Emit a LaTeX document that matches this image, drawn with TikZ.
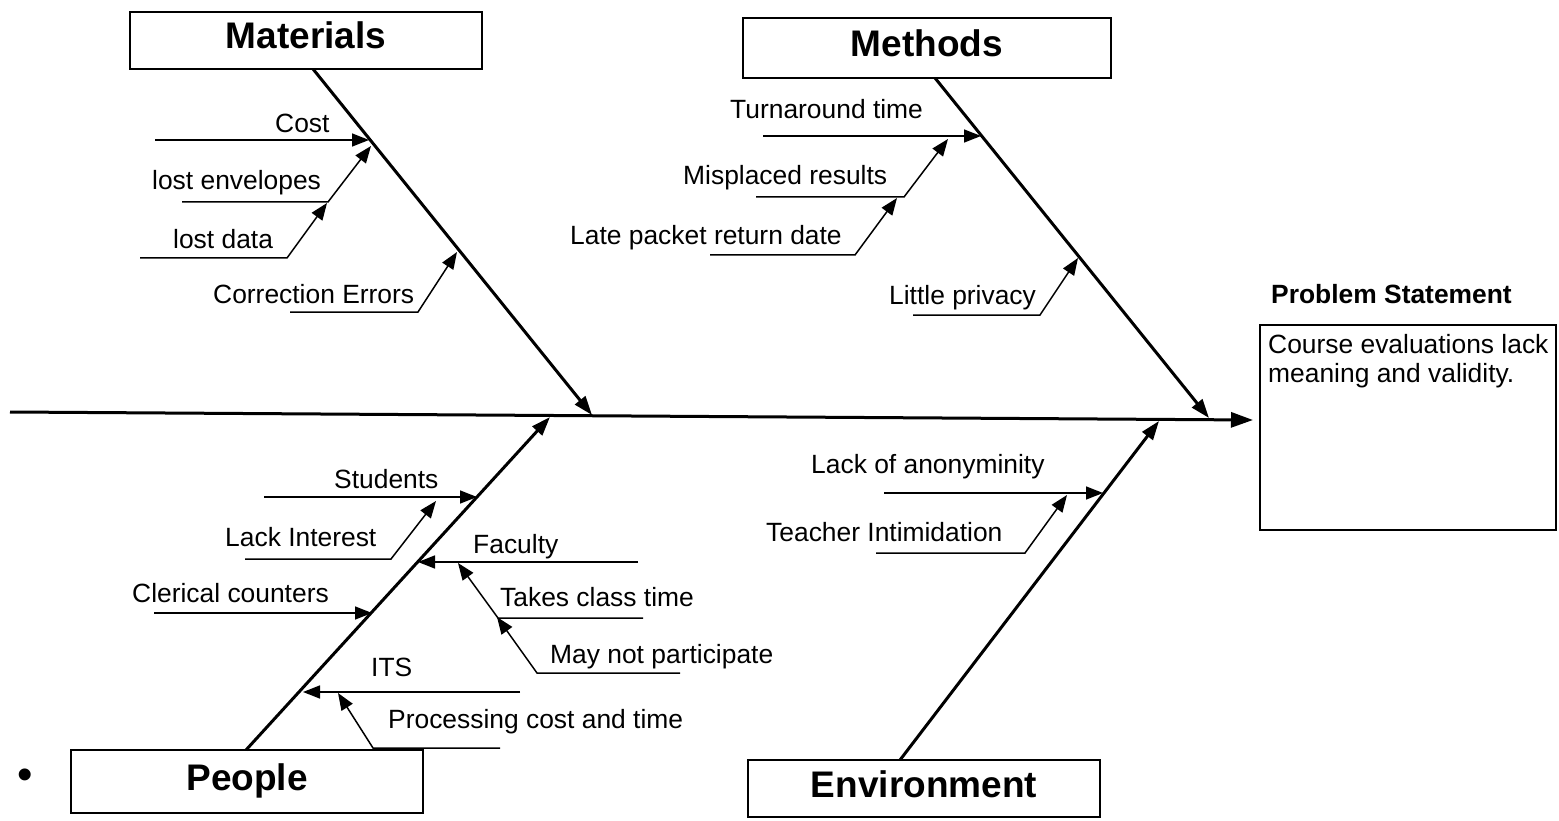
\documentclass[tikz,border=0pt]{standalone}
\usepackage{fontspec}
\setmainfont{Liberation Sans}
\usetikzlibrary{arrows.meta}
\begin{document}
\begin{tikzpicture}[x=1pt,y=-1pt,
  catbox/.style={draw, line width=1.5pt, inner sep=0pt, text height=27pt, text depth=10pt, font=\fontsize{37}{40}\selectfont\bfseries},
  lbl/.style={anchor=base west, inner sep=0pt, font=\fontsize{26.4}{30}\selectfont},
  spine/.style={line width=3pt, -{Triangle[length=22pt,width=15pt]}},
  bone/.style={line width=3pt, -{Triangle[length=19pt,width=13pt]}},
  rib/.style={line width=1.5pt, -{Triangle[length=17pt,width=13pt]}}]
\useasboundingbox (0,0) rectangle (1559,821);

% category boxes
\node[catbox, minimum width=352pt, minimum height=57pt] (mat) at (306,40.5) {Materials};
\node[catbox, minimum width=368pt, minimum height=60pt] (met) at (927,48) {Methods};
\node[catbox, minimum width=352pt, minimum height=63pt] (peo) at (247,781.5) {People};
\node[catbox, minimum width=352pt, minimum height=57pt] (env) at (924,788.5) {Environment};

% problem statement
\node[anchor=base west, inner sep=0pt, font=\fontsize{26.4}{30}\selectfont\bfseries] (ptitle) at (1271,303) {Problem Statement};
\node[draw, line width=1.5pt, minimum width=296pt, minimum height=205pt, inner sep=0pt] (prob) at (1408,427.5) {};
\node[anchor=north west, inner sep=0pt, align=left, font=\fontsize{26.4}{29}\selectfont] (ptext) at (1268,334) {Course evaluations lack\\meaning and validity.};

% bullet
\node[inner sep=0pt, font=\fontsize{44}{48}\selectfont] (bul) at (25,779) {•};

% spine
\coordinate (tail) at (10,412);
\coordinate (head) at (1253,420);
\draw[spine] (tail) -- (head);

% bone endpoints
\coordinate (matS) at (313,69);
\coordinate (matT) at (592,415);
\coordinate (metS) at (935,78);
\coordinate (metT) at (1209,418);
\coordinate (peoS) at (246,750);
\coordinate (peoT) at (550,417);
\coordinate (envS) at (900,760);
\coordinate (envT) at (1159,421);
\draw[bone] (matS) -- (matT);
\draw[bone] (metS) -- (metT);
\draw[bone] (peoS) -- (peoT);
\draw[bone] (envS) -- (envT);

% ---------- Materials ribs
\node[lbl] (cost) at (275,133) {Cost};
\node[lbl] (lenv) at (152,190) {lost envelopes};
\node[lbl] (ldata) at (173,249) {lost data};
\node[lbl] (corr) at (213,303) {Correction Errors};
\coordinate (c1) at (155,140); \coordinate (c1t) at (369,140);
\coordinate (c2) at (182,202); \coordinate (c2b) at (328,202); \coordinate (c2t) at (371,146);
\coordinate (c3) at (140,258); \coordinate (c3b) at (287,258); \coordinate (c3t) at (327,203);
\coordinate (c4) at (290,312); \coordinate (c4b) at (418,312); \coordinate (c4t) at (457,252);
\draw[rib] (c1) -- (c1t);
\draw[rib] (c2) -- (c2b) -- (c2t);
\draw[rib] (c3) -- (c3b) -- (c3t);
\draw[rib] (c4) -- (c4b) -- (c4t);

% ---------- Methods ribs
\node[lbl] (turn) at (730,119) {Turnaround time};
\node[lbl] (misp) at (683,185) {Misplaced results};
\node[lbl] (late) at (570,245) {Late packet return date};
\node[lbl] (priv) at (889,305) {Little privacy};
\coordinate (m1) at (763,136); \coordinate (m1t) at (981,136);
\coordinate (m2) at (756,197); \coordinate (m2b) at (904,197); \coordinate (m2t) at (948,139);
\coordinate (m3) at (710,255); \coordinate (m3b) at (855,255); \coordinate (m3t) at (897,198);
\coordinate (m4) at (913,315); \coordinate (m4b) at (1040,315); \coordinate (m4t) at (1078,258);
\draw[rib] (m1) -- (m1t);
\draw[rib] (m2) -- (m2b) -- (m2t);
\draw[rib] (m3) -- (m3b) -- (m3t);
\draw[rib] (m4) -- (m4b) -- (m4t);

% ---------- People ribs
\node[lbl] (stud) at (334,488) {Students};
\node[lbl] (lint) at (225,546) {Lack Interest};
\node[lbl] (cler) at (132,602) {Clerical counters};
\node[lbl] (fac) at (473,553) {Faculty};
\node[lbl] (takes) at (500,606) {Takes class time};
\node[lbl] (maynot) at (550,663) {May not participate};
\node[lbl] (its) at (371,676) {ITS};
\node[lbl] (proc) at (388,728) {Processing cost and time};
\coordinate (p1) at (264,497); \coordinate (p1t) at (477,497);
\coordinate (p2) at (245,559); \coordinate (p2b) at (391,559); \coordinate (p2t) at (436,501);
\coordinate (p3) at (154,613); \coordinate (p3t) at (372,613);
\coordinate (p4) at (638,562); \coordinate (p4t) at (418,562);
\coordinate (p5) at (643,618); \coordinate (p5b) at (498,618); \coordinate (p5t) at (458,563);
\coordinate (p6) at (680,673); \coordinate (p6b) at (537,673); \coordinate (p6t) at (497,617);
\coordinate (p7) at (520,692); \coordinate (p7t) at (303,692);
\coordinate (p8) at (500,748); \coordinate (p8b) at (373,748); \coordinate (p8t) at (338,693);
\draw[rib] (p1) -- (p1t);
\draw[rib] (p2) -- (p2b) -- (p2t);
\draw[rib] (p3) -- (p3t);
\draw[rib] (p4) -- (p4t);
\draw[rib] (p5) -- (p5b) -- (p5t);
\draw[rib] (p6) -- (p6b) -- (p6t);
\draw[rib] (p7) -- (p7t);
\draw[rib] (p8) -- (p8b) -- (p8t);

% ---------- Environment ribs
\node[lbl] (anon) at (811,473) {Lack of anonyminity};
\node[lbl] (intim) at (766,541) {Teacher Intimidation};
\coordinate (e1) at (884,493); \coordinate (e1t) at (1103,493);
\coordinate (e2) at (876,553); \coordinate (e2b) at (1025,553); \coordinate (e2t) at (1067,495);
\draw[rib] (e1) -- (e1t);
\draw[rib] (e2) -- (e2b) -- (e2t);
\end{tikzpicture}
\end{document}
